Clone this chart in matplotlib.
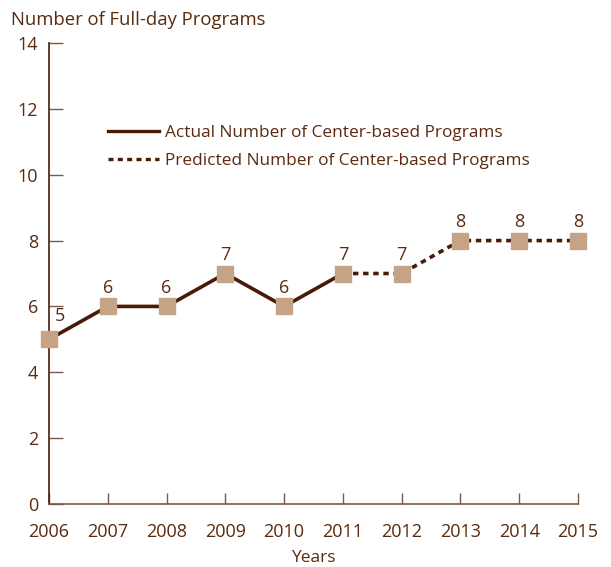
import matplotlib.pyplot as plt
from matplotlib.lines import Line2D

years = [2006, 2007, 2008, 2009, 2010, 2011, 2012, 2013, 2014, 2015]
programs = [5, 6, 6, 7, 6, 7, 7, 8, 8, 8]
n_actual = 6  # 2006-2011 are actual, the rest predicted

text_col = '#5b2a10'
line_col = '#4a1a06'
mark_col = '#c4a386'
tick_col = '#7a5a4a'

plt.rcParams['font.family'] = ['Open Sans', 'DejaVu Sans']

fig = plt.figure(figsize=(6.11, 5.67), dpi=100)
ax = fig.add_axes([49 / 611, 63 / 567, 529 / 611, 461 / 567])

ax.plot(years[:n_actual], programs[:n_actual], color=line_col, lw=2.6,
        solid_capstyle='butt', zorder=2, clip_on=False)
ax.plot(years[n_actual - 1:], programs[n_actual - 1:], color=line_col, lw=2.6,
        linestyle=(0, (1.5, 1.3)), zorder=2, clip_on=False)
ax.plot(years, programs, linestyle='none', marker='s', markersize=11,
        color=mark_col, zorder=3, clip_on=False)

for x, y in zip(years, programs):
    if x == years[0]:
        ax.annotate(str(y), (x, y), xytext=(8, 10), textcoords='offset points',
                    ha='center', va='bottom', fontsize=13, color=text_col)
    else:
        ax.annotate(str(y), (x, y), xytext=(0, 7), textcoords='offset points',
                    ha='center', va='bottom', fontsize=13, color=text_col)

ax.set_xlim(2006, 2015)
ax.set_ylim(0, 14)
ax.set_xticks(years)
ax.set_yticks(range(0, 15, 2))
ax.spines['top'].set_visible(False)
ax.spines['right'].set_visible(False)
ax.spines['left'].set_color(line_col)
ax.spines['bottom'].set_color(tick_col)
ax.spines['left'].set_linewidth(1.2)
ax.spines['bottom'].set_linewidth(1.2)
ax.tick_params(axis='y', direction='in', length=10, width=1, color=tick_col,
               labelsize=13, labelcolor=text_col, pad=8)
ax.tick_params(axis='x', direction='in', length=8, width=1, color=tick_col,
               labelsize=13, labelcolor=text_col, pad=14)

ax.set_xlabel('Years', fontsize=12.5, color=text_col, labelpad=6)
fig.text(11 / 611, 1 - 20 / 567, 'Number of Full-day Programs', fontsize=13.3,
         color=text_col, va='center', ha='left')

handles = [Line2D([], [], color=line_col, lw=2.4),
           Line2D([], [], color=line_col, lw=2.4, linestyle=(0, (1.5, 1.3)))]
ax.legend(handles, ['Actual Number of Center-based Programs',
                    'Predicted Number of Center-based Programs'],
          loc='upper left', bbox_to_anchor=(0.111, 0.822), frameon=False,
          fontsize=12.4, labelcolor=text_col, handlelength=3.0,
          handletextpad=0.35, labelspacing=0.7, borderpad=0,
          borderaxespad=0)

fig.savefig('out.png', dpi=100)
